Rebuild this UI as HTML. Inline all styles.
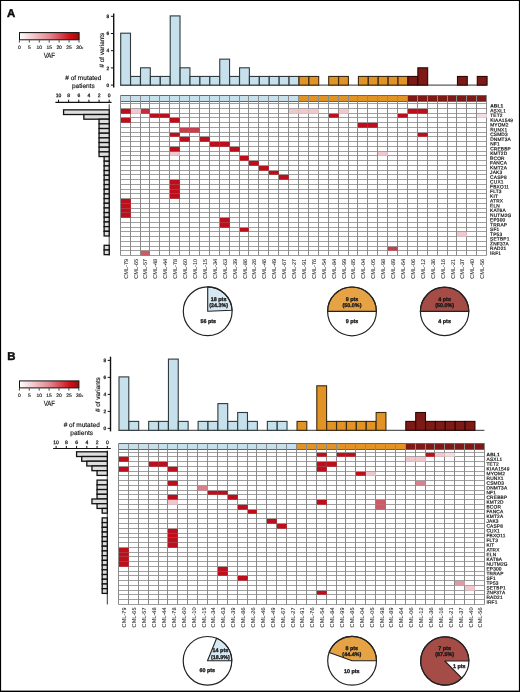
<!DOCTYPE html>
<html><head><meta charset="utf-8"><title>Figure</title><style>html,body{margin:0;padding:0;background:#fff;width:520px;height:692px;overflow:hidden;}text{stroke:#151515;stroke-width:0.15px;text-rendering:geometricPrecision;}text.n{stroke:none}text.gl{stroke-width:0.18px}text.sl{stroke-width:0.05px}text.pt{stroke-width:0.3px}text.tk{stroke-width:0.25px}text.lt{stroke:#000;stroke-width:0.45px}svg{display:block;will-change:transform;font-family:"Liberation Sans",sans-serif;}</style></head><body>
<svg width="520" height="692" viewBox="0 0 520 692" font-family="Liberation Sans, sans-serif" fill="#111">
<defs><linearGradient id="gA" x1="0" x2="1" y1="0" y2="0"><stop offset="0" stop-color="#ffffff"/><stop offset="0.5" stop-color="#e48890"/><stop offset="0.85" stop-color="#cf1018"/><stop offset="1" stop-color="#a00c0c"/></linearGradient><linearGradient id="gB" x1="0" x2="1" y1="0" y2="0"><stop offset="0" stop-color="#ffffff"/><stop offset="0.5" stop-color="#e48890"/><stop offset="0.85" stop-color="#cf1018"/><stop offset="1" stop-color="#a00c0c"/></linearGradient></defs>
<rect x="0" y="0" width="520" height="692" fill="#fff"/>
<text class="lt" x="7" y="16.6" font-size="11.4" font-weight="bold">A</text>
<rect x="19.5" y="32.6" width="59.6" height="7.2" fill="url(#gA)" stroke="#111" stroke-width="1"/>
<line x1="19.4" y1="40.3" x2="19.4" y2="42.5" stroke="#111" stroke-width="0.8"/>
<text x="19.4" y="48.9" font-size="4.9" text-anchor="middle">0</text>
<line x1="29.33" y1="40.3" x2="29.33" y2="42.5" stroke="#111" stroke-width="0.8"/>
<text x="29.33" y="48.9" font-size="4.9" text-anchor="middle">5</text>
<line x1="39.27" y1="40.3" x2="39.27" y2="42.5" stroke="#111" stroke-width="0.8"/>
<text x="39.27" y="48.9" font-size="4.9" text-anchor="middle">10</text>
<line x1="49.2" y1="40.3" x2="49.2" y2="42.5" stroke="#111" stroke-width="0.8"/>
<text x="49.2" y="48.9" font-size="4.9" text-anchor="middle">15</text>
<line x1="59.13" y1="40.3" x2="59.13" y2="42.5" stroke="#111" stroke-width="0.8"/>
<text x="59.13" y="48.9" font-size="4.9" text-anchor="middle">20</text>
<line x1="69.07" y1="40.3" x2="69.07" y2="42.5" stroke="#111" stroke-width="0.8"/>
<text x="69.07" y="48.9" font-size="4.9" text-anchor="middle">25</text>
<line x1="79" y1="40.3" x2="79" y2="42.5" stroke="#111" stroke-width="0.8"/>
<text x="79" y="48.9" font-size="4.9" text-anchor="middle">30</text>
<text x="81.6" y="48.6" font-size="3">&gt;</text>
<text x="49.4" y="57.8" font-size="7.6" text-anchor="middle" transform="translate(49.4 0) scale(0.8 1) translate(-49.4 0)">VAF</text>
<line x1="113.7" y1="13.6" x2="113.7" y2="87.6" stroke="#111" stroke-width="1.4"/>
<line x1="110.9" y1="85.1" x2="113.7" y2="85.1" stroke="#111" stroke-width="1"/>
<text class="tk" x="109.1" y="86.8" font-size="4.8" text-anchor="end">0</text>
<line x1="110.9" y1="67.9" x2="113.7" y2="67.9" stroke="#111" stroke-width="1"/>
<text class="tk" x="109.1" y="69.6" font-size="4.8" text-anchor="end">2</text>
<line x1="110.9" y1="50.7" x2="113.7" y2="50.7" stroke="#111" stroke-width="1"/>
<text class="tk" x="109.1" y="52.4" font-size="4.8" text-anchor="end">4</text>
<line x1="110.9" y1="33.5" x2="113.7" y2="33.5" stroke="#111" stroke-width="1"/>
<text class="tk" x="109.1" y="35.2" font-size="4.8" text-anchor="end">6</text>
<line x1="110.9" y1="16.3" x2="113.7" y2="16.3" stroke="#111" stroke-width="1"/>
<text class="tk" x="109.1" y="18" font-size="4.8" text-anchor="end">8</text>
<text x="0" y="0" font-size="6.4" text-anchor="middle" transform="translate(104.1 50.2) rotate(-90)"># of variants</text>
<line x1="120.2" y1="85.1" x2="486.68" y2="85.1" stroke="#333" stroke-width="1"/>
<rect x="120.7" y="33.2" width="9.8" height="51.9" fill="#c6e0ec" stroke="#2f3b3e" stroke-width="1.1"/>
<rect x="130.6" y="76.45" width="9.8" height="8.65" fill="#c6e0ec" stroke="#2f3b3e" stroke-width="1.1"/>
<rect x="140.51" y="67.8" width="9.8" height="17.3" fill="#c6e0ec" stroke="#2f3b3e" stroke-width="1.1"/>
<rect x="150.41" y="76.45" width="9.8" height="8.65" fill="#c6e0ec" stroke="#2f3b3e" stroke-width="1.1"/>
<rect x="160.32" y="76.45" width="9.8" height="8.65" fill="#c6e0ec" stroke="#2f3b3e" stroke-width="1.1"/>
<rect x="170.22" y="15.9" width="9.8" height="69.2" fill="#c6e0ec" stroke="#2f3b3e" stroke-width="1.1"/>
<rect x="180.13" y="67.8" width="9.8" height="17.3" fill="#c6e0ec" stroke="#2f3b3e" stroke-width="1.1"/>
<rect x="190.03" y="76.45" width="9.8" height="8.65" fill="#c6e0ec" stroke="#2f3b3e" stroke-width="1.1"/>
<rect x="199.94" y="76.45" width="9.8" height="8.65" fill="#c6e0ec" stroke="#2f3b3e" stroke-width="1.1"/>
<rect x="209.84" y="76.45" width="9.8" height="8.65" fill="#c6e0ec" stroke="#2f3b3e" stroke-width="1.1"/>
<rect x="219.75" y="59.15" width="9.8" height="25.95" fill="#c6e0ec" stroke="#2f3b3e" stroke-width="1.1"/>
<rect x="229.66" y="76.45" width="9.8" height="8.65" fill="#c6e0ec" stroke="#2f3b3e" stroke-width="1.1"/>
<rect x="239.56" y="67.8" width="9.8" height="17.3" fill="#c6e0ec" stroke="#2f3b3e" stroke-width="1.1"/>
<rect x="249.46" y="76.45" width="9.8" height="8.65" fill="#c6e0ec" stroke="#2f3b3e" stroke-width="1.1"/>
<rect x="259.37" y="76.45" width="9.8" height="8.65" fill="#c6e0ec" stroke="#2f3b3e" stroke-width="1.1"/>
<rect x="269.27" y="76.45" width="9.8" height="8.65" fill="#c6e0ec" stroke="#2f3b3e" stroke-width="1.1"/>
<rect x="279.18" y="76.45" width="9.8" height="8.65" fill="#c6e0ec" stroke="#2f3b3e" stroke-width="1.1"/>
<rect x="289.08" y="76.45" width="9.8" height="8.65" fill="#c6e0ec" stroke="#2f3b3e" stroke-width="1.1"/>
<rect x="298.99" y="76.45" width="9.8" height="8.65" fill="#e19326" stroke="#3a2a14" stroke-width="1.1"/>
<rect x="308.89" y="76.45" width="9.8" height="8.65" fill="#e19326" stroke="#3a2a14" stroke-width="1.1"/>
<rect x="328.7" y="76.45" width="9.8" height="8.65" fill="#e19326" stroke="#3a2a14" stroke-width="1.1"/>
<rect x="338.61" y="76.45" width="9.8" height="8.65" fill="#e19326" stroke="#3a2a14" stroke-width="1.1"/>
<rect x="358.42" y="76.45" width="9.8" height="8.65" fill="#e19326" stroke="#3a2a14" stroke-width="1.1"/>
<rect x="368.32" y="76.45" width="9.8" height="8.65" fill="#e19326" stroke="#3a2a14" stroke-width="1.1"/>
<rect x="378.23" y="76.45" width="9.8" height="8.65" fill="#e19326" stroke="#3a2a14" stroke-width="1.1"/>
<rect x="388.13" y="76.45" width="9.8" height="8.65" fill="#e19326" stroke="#3a2a14" stroke-width="1.1"/>
<rect x="398.04" y="76.45" width="9.8" height="8.65" fill="#e19326" stroke="#3a2a14" stroke-width="1.1"/>
<rect x="407.94" y="76.45" width="9.8" height="8.65" fill="#7d1a16" stroke="#2a0806" stroke-width="1.1"/>
<rect x="417.85" y="67.8" width="9.8" height="17.3" fill="#7d1a16" stroke="#2a0806" stroke-width="1.1"/>
<rect x="457.47" y="76.45" width="9.8" height="8.65" fill="#7d1a16" stroke="#2a0806" stroke-width="1.1"/>
<rect x="477.28" y="76.45" width="9.8" height="8.65" fill="#7d1a16" stroke="#2a0806" stroke-width="1.1"/>
<text x="83.3" y="80.4" font-size="6.5" text-anchor="middle"># of mutated</text>
<text x="83.3" y="88.2" font-size="6.5" text-anchor="middle">patients</text>
<line x1="55.4" y1="102.3" x2="111.5" y2="102.3" stroke="#111" stroke-width="1.2"/>
<line x1="109.2" y1="99.7" x2="109.2" y2="102.3" stroke="#111" stroke-width="1"/>
<text class="tk" x="109.2" y="96.9" font-size="5" text-anchor="middle">0</text>
<line x1="99.06" y1="99.7" x2="99.06" y2="102.3" stroke="#111" stroke-width="1"/>
<text class="tk" x="99.06" y="96.9" font-size="5" text-anchor="middle">2</text>
<line x1="88.92" y1="99.7" x2="88.92" y2="102.3" stroke="#111" stroke-width="1"/>
<text class="tk" x="88.92" y="96.9" font-size="5" text-anchor="middle">4</text>
<line x1="78.78" y1="99.7" x2="78.78" y2="102.3" stroke="#111" stroke-width="1"/>
<text class="tk" x="78.78" y="96.9" font-size="5" text-anchor="middle">6</text>
<line x1="68.64" y1="99.7" x2="68.64" y2="102.3" stroke="#111" stroke-width="1"/>
<text class="tk" x="68.64" y="96.9" font-size="5" text-anchor="middle">8</text>
<line x1="58.5" y1="99.7" x2="58.5" y2="102.3" stroke="#111" stroke-width="1"/>
<text class="tk" x="58.5" y="96.9" font-size="5" text-anchor="middle">10</text>
<line x1="109.2" y1="104.3" x2="109.2" y2="255.5" stroke="#222" stroke-width="0.9"/>
<rect x="63.57" y="109.85" width="45.63" height="4.67" fill="#dedede" stroke="#111" stroke-width="1.3"/>
<rect x="83.85" y="114.52" width="25.35" height="4.67" fill="#dedede" stroke="#111" stroke-width="1.3"/>
<rect x="99.06" y="119.19" width="10.14" height="4.67" fill="#dedede" stroke="#111" stroke-width="1.3"/>
<rect x="99.06" y="123.86" width="10.14" height="4.67" fill="#dedede" stroke="#111" stroke-width="1.3"/>
<rect x="99.06" y="128.53" width="10.14" height="4.67" fill="#dedede" stroke="#111" stroke-width="1.3"/>
<rect x="99.06" y="133.21" width="10.14" height="4.67" fill="#dedede" stroke="#111" stroke-width="1.3"/>
<rect x="99.06" y="137.88" width="10.14" height="4.67" fill="#dedede" stroke="#111" stroke-width="1.3"/>
<rect x="99.06" y="142.55" width="10.14" height="4.67" fill="#dedede" stroke="#111" stroke-width="1.3"/>
<rect x="99.06" y="147.22" width="10.14" height="4.67" fill="#dedede" stroke="#111" stroke-width="1.3"/>
<rect x="99.06" y="151.89" width="10.14" height="4.67" fill="#dedede" stroke="#111" stroke-width="1.3"/>
<rect x="104.13" y="156.56" width="5.07" height="4.67" fill="#dedede" stroke="#111" stroke-width="1.3"/>
<rect x="104.13" y="161.23" width="5.07" height="4.67" fill="#dedede" stroke="#111" stroke-width="1.3"/>
<rect x="104.13" y="165.9" width="5.07" height="4.67" fill="#dedede" stroke="#111" stroke-width="1.3"/>
<rect x="104.13" y="170.57" width="5.07" height="4.67" fill="#dedede" stroke="#111" stroke-width="1.3"/>
<rect x="104.13" y="175.25" width="5.07" height="4.67" fill="#dedede" stroke="#111" stroke-width="1.3"/>
<rect x="104.13" y="179.92" width="5.07" height="4.67" fill="#dedede" stroke="#111" stroke-width="1.3"/>
<rect x="104.13" y="184.59" width="5.07" height="4.67" fill="#dedede" stroke="#111" stroke-width="1.3"/>
<rect x="104.13" y="189.26" width="5.07" height="4.67" fill="#dedede" stroke="#111" stroke-width="1.3"/>
<rect x="104.13" y="193.93" width="5.07" height="4.67" fill="#dedede" stroke="#111" stroke-width="1.3"/>
<rect x="104.13" y="198.6" width="5.07" height="4.67" fill="#dedede" stroke="#111" stroke-width="1.3"/>
<rect x="104.13" y="203.27" width="5.07" height="4.67" fill="#dedede" stroke="#111" stroke-width="1.3"/>
<rect x="104.13" y="207.94" width="5.07" height="4.67" fill="#dedede" stroke="#111" stroke-width="1.3"/>
<rect x="104.13" y="212.61" width="5.07" height="4.67" fill="#dedede" stroke="#111" stroke-width="1.3"/>
<rect x="104.13" y="217.28" width="5.07" height="4.67" fill="#dedede" stroke="#111" stroke-width="1.3"/>
<rect x="104.13" y="221.96" width="5.07" height="4.67" fill="#dedede" stroke="#111" stroke-width="1.3"/>
<rect x="104.13" y="226.63" width="5.07" height="4.67" fill="#dedede" stroke="#111" stroke-width="1.3"/>
<rect x="104.13" y="231.3" width="5.07" height="4.67" fill="#dedede" stroke="#111" stroke-width="1.3"/>
<rect x="104.13" y="245.31" width="5.07" height="4.67" fill="#dedede" stroke="#111" stroke-width="1.3"/>
<rect x="104.13" y="249.98" width="5.07" height="4.67" fill="#dedede" stroke="#111" stroke-width="1.3"/>
<rect x="120.5" y="95.5" width="10" height="6" fill="#c6e0ec"/>
<rect x="130.5" y="95.5" width="10" height="6" fill="#c6e0ec"/>
<rect x="140.5" y="95.5" width="9" height="6" fill="#c6e0ec"/>
<rect x="149.5" y="95.5" width="10" height="6" fill="#c6e0ec"/>
<rect x="159.5" y="95.5" width="10" height="6" fill="#c6e0ec"/>
<rect x="169.5" y="95.5" width="10" height="6" fill="#c6e0ec"/>
<rect x="179.5" y="95.5" width="10" height="6" fill="#c6e0ec"/>
<rect x="189.5" y="95.5" width="10" height="6" fill="#c6e0ec"/>
<rect x="199.5" y="95.5" width="10" height="6" fill="#c6e0ec"/>
<rect x="209.5" y="95.5" width="10" height="6" fill="#c6e0ec"/>
<rect x="219.5" y="95.5" width="10" height="6" fill="#c6e0ec"/>
<rect x="229.5" y="95.5" width="10" height="6" fill="#c6e0ec"/>
<rect x="239.5" y="95.5" width="9" height="6" fill="#c6e0ec"/>
<rect x="248.5" y="95.5" width="10" height="6" fill="#c6e0ec"/>
<rect x="258.5" y="95.5" width="10" height="6" fill="#c6e0ec"/>
<rect x="268.5" y="95.5" width="10" height="6" fill="#c6e0ec"/>
<rect x="278.5" y="95.5" width="10" height="6" fill="#c6e0ec"/>
<rect x="288.5" y="95.5" width="10" height="6" fill="#c6e0ec"/>
<rect x="298.5" y="95.5" width="10" height="6" fill="#e19326"/>
<rect x="308.5" y="95.5" width="10" height="6" fill="#e19326"/>
<rect x="318.5" y="95.5" width="10" height="6" fill="#e19326"/>
<rect x="328.5" y="95.5" width="10" height="6" fill="#e19326"/>
<rect x="338.5" y="95.5" width="10" height="6" fill="#e19326"/>
<rect x="348.5" y="95.5" width="9" height="6" fill="#e19326"/>
<rect x="357.5" y="95.5" width="10" height="6" fill="#e19326"/>
<rect x="367.5" y="95.5" width="10" height="6" fill="#e19326"/>
<rect x="377.5" y="95.5" width="10" height="6" fill="#e19326"/>
<rect x="387.5" y="95.5" width="10" height="6" fill="#e19326"/>
<rect x="397.5" y="95.5" width="10" height="6" fill="#e19326"/>
<rect x="407.5" y="95.5" width="10" height="6" fill="#7d1a16"/>
<rect x="417.5" y="95.5" width="10" height="6" fill="#7d1a16"/>
<rect x="427.5" y="95.5" width="10" height="6" fill="#7d1a16"/>
<rect x="437.5" y="95.5" width="10" height="6" fill="#7d1a16"/>
<rect x="447.5" y="95.5" width="9" height="6" fill="#7d1a16"/>
<rect x="456.5" y="95.5" width="10" height="6" fill="#7d1a16"/>
<rect x="466.5" y="95.5" width="10" height="6" fill="#7d1a16"/>
<rect x="476.5" y="95.5" width="10" height="6" fill="#7d1a16"/>
<path d="M120.5 95.5H486.5M120.5 101.5H486.5" stroke="#666" stroke-width="1" fill="none"/>
<path d="M120.5 103.5H486.5M120.5 108.5H486.5M120.5 113.5H486.5M120.5 117.5H486.5M120.5 122.5H486.5M120.5 127.5H486.5M120.5 132.5H486.5M120.5 136.5H486.5M120.5 141.5H486.5M120.5 146.5H486.5M120.5 151.5H486.5M120.5 155.5H486.5M120.5 160.5H486.5M120.5 165.5H486.5M120.5 170.5H486.5M120.5 174.5H486.5M120.5 179.5H486.5M120.5 184.5H486.5M120.5 189.5H486.5M120.5 193.5H486.5M120.5 198.5H486.5M120.5 203.5H486.5M120.5 208.5H486.5M120.5 212.5H486.5M120.5 217.5H486.5M120.5 222.5H486.5M120.5 227.5H486.5M120.5 231.5H486.5M120.5 236.5H486.5M120.5 241.5H486.5M120.5 246.5H486.5M120.5 250.5H486.5M120.5 255.5H486.5" stroke="#9e9e9e" stroke-width="1" fill="none"/>
<path d="M120.5 95.5V255.5M130.5 95.5V255.5M140.5 95.5V255.5M149.5 95.5V255.5M159.5 95.5V255.5M169.5 95.5V255.5M179.5 95.5V255.5M189.5 95.5V255.5M199.5 95.5V255.5M209.5 95.5V255.5M219.5 95.5V255.5M229.5 95.5V255.5M239.5 95.5V255.5M248.5 95.5V255.5M258.5 95.5V255.5M268.5 95.5V255.5M278.5 95.5V255.5M288.5 95.5V255.5M298.5 95.5V255.5M308.5 95.5V255.5M318.5 95.5V255.5M328.5 95.5V255.5M338.5 95.5V255.5M348.5 95.5V255.5M357.5 95.5V255.5M367.5 95.5V255.5M377.5 95.5V255.5M387.5 95.5V255.5M397.5 95.5V255.5M407.5 95.5V255.5M417.5 95.5V255.5M427.5 95.5V255.5M437.5 95.5V255.5M447.5 95.5V255.5M456.5 95.5V255.5M466.5 95.5V255.5M476.5 95.5V255.5M486.5 95.5V255.5" stroke="#8a8a8a" stroke-width="1" fill="none"/>
<rect x="121" y="108.9" width="9.8" height="4.8" fill="#bc0f1b"/>
<rect x="131" y="108.9" width="9.8" height="4.8" fill="#f1c8cd"/>
<rect x="141" y="108.9" width="8.8" height="4.8" fill="#c72a38"/>
<rect x="289" y="108.9" width="9.8" height="4.8" fill="#f1c8cd"/>
<rect x="299" y="108.9" width="9.8" height="4.8" fill="#f1c8cd"/>
<rect x="309" y="108.9" width="9.8" height="4.8" fill="#f1c8cd"/>
<rect x="339" y="108.9" width="9.8" height="4.8" fill="#f1c8cd"/>
<rect x="408" y="108.9" width="9.8" height="4.8" fill="#bc0f1b"/>
<rect x="418" y="108.9" width="9.8" height="4.8" fill="#bc0f1b"/>
<rect x="150" y="113.9" width="9.8" height="3.8" fill="#bc0f1b"/>
<rect x="160" y="113.9" width="9.8" height="3.8" fill="#bc0f1b"/>
<rect x="329" y="113.9" width="9.8" height="3.8" fill="#bc0f1b"/>
<rect x="398" y="113.9" width="9.8" height="3.8" fill="#bc0f1b"/>
<rect x="477" y="113.9" width="9.8" height="3.8" fill="#f7dde0"/>
<rect x="121" y="117.9" width="9.8" height="4.8" fill="#bc0f1b"/>
<rect x="170" y="117.9" width="9.8" height="4.8" fill="#bc0f1b"/>
<rect x="358" y="122.9" width="9.8" height="4.8" fill="#bc0f1b"/>
<rect x="368" y="122.9" width="9.8" height="4.8" fill="#bc0f1b"/>
<rect x="180" y="127.9" width="9.8" height="4.8" fill="#c4404c"/>
<rect x="190" y="127.9" width="9.8" height="4.8" fill="#c4404c"/>
<rect x="170" y="132.9" width="9.8" height="3.8" fill="#bc0f1b"/>
<rect x="418" y="132.9" width="9.8" height="3.8" fill="#bc0f1b"/>
<rect x="180" y="136.9" width="9.8" height="4.8" fill="#bc0f1b"/>
<rect x="200" y="136.9" width="9.8" height="4.8" fill="#bc0f1b"/>
<rect x="210" y="141.9" width="9.8" height="4.8" fill="#bc0f1b"/>
<rect x="220" y="141.9" width="9.8" height="4.8" fill="#bc0f1b"/>
<rect x="170" y="146.9" width="9.8" height="4.8" fill="#bc0f1b"/>
<rect x="230" y="146.9" width="9.8" height="4.8" fill="#bc0f1b"/>
<rect x="170" y="151.9" width="9.8" height="3.8" fill="#f1c8cd"/>
<rect x="378" y="151.9" width="9.8" height="3.8" fill="#f1c8cd"/>
<rect x="240" y="155.9" width="8.8" height="4.8" fill="#bc0f1b"/>
<rect x="249" y="160.9" width="9.8" height="4.8" fill="#bc0f1b"/>
<rect x="259" y="165.9" width="9.8" height="4.8" fill="#bc0f1b"/>
<rect x="269" y="170.9" width="9.8" height="3.8" fill="#bc0f1b"/>
<rect x="279" y="174.9" width="9.8" height="4.8" fill="#bc0f1b"/>
<rect x="170" y="179.9" width="9.8" height="4.8" fill="#bc0f1b"/>
<rect x="170" y="184.9" width="9.8" height="4.8" fill="#bc0f1b"/>
<rect x="170" y="189.9" width="9.8" height="3.8" fill="#bc0f1b"/>
<rect x="170" y="193.9" width="9.8" height="4.8" fill="#bc0f1b"/>
<rect x="121" y="198.9" width="9.8" height="4.8" fill="#bc0f1b"/>
<rect x="121" y="203.9" width="9.8" height="4.8" fill="#bc0f1b"/>
<rect x="121" y="208.9" width="9.8" height="3.8" fill="#bc0f1b"/>
<rect x="121" y="212.9" width="9.8" height="4.8" fill="#bc0f1b"/>
<rect x="220" y="217.9" width="9.8" height="4.8" fill="#bc0f1b"/>
<rect x="220" y="222.9" width="9.8" height="4.8" fill="#bc0f1b"/>
<rect x="240" y="227.9" width="8.8" height="3.8" fill="#bc0f1b"/>
<rect x="457" y="231.9" width="9.8" height="4.8" fill="#f1c8cd"/>
<rect x="388" y="246.9" width="9.8" height="3.8" fill="#c4404c"/>
<rect x="141" y="250.9" width="8.8" height="4.8" fill="#cd5a66"/>
<g transform="rotate(0.05 490.18 103.5)">
<text class="gl" x="490.18" y="107.62" font-size="4.8" letter-spacing="0.18" font-weight="bold">ABL1</text>
<text class="gl" x="490.18" y="112.38" font-size="4.8" letter-spacing="0.18">ASXL1</text>
<text class="gl" x="490.18" y="117.12" font-size="4.8" letter-spacing="0.18">TET2</text>
<text class="gl" x="490.18" y="121.88" font-size="4.8" letter-spacing="0.18">KIAA1549</text>
<text class="gl" x="490.18" y="126.62" font-size="4.8" letter-spacing="0.18">MYOM2</text>
<text class="gl" x="490.18" y="131.38" font-size="4.8" letter-spacing="0.18">RUNX1</text>
<text class="gl" x="490.18" y="136.12" font-size="4.8" letter-spacing="0.18">CSMD3</text>
<text class="gl" x="490.18" y="140.88" font-size="4.8" letter-spacing="0.18">DNMT3A</text>
<text class="gl" x="490.18" y="145.62" font-size="4.8" letter-spacing="0.18">NF1</text>
<text class="gl" x="490.18" y="150.38" font-size="4.8" letter-spacing="0.18">CREBBP</text>
<text class="gl" x="490.18" y="155.12" font-size="4.8" letter-spacing="0.18">KMT2D</text>
<text class="gl" x="490.18" y="159.88" font-size="4.8" letter-spacing="0.18">BCOR</text>
<text class="gl" x="490.18" y="164.62" font-size="4.8" letter-spacing="0.18">FANCA</text>
<text class="gl" x="490.18" y="169.38" font-size="4.8" letter-spacing="0.18">KMT2A</text>
<text class="gl" x="490.18" y="174.12" font-size="4.8" letter-spacing="0.18">JAK3</text>
<text class="gl" x="490.18" y="178.88" font-size="4.8" letter-spacing="0.18">CASP8</text>
<text class="gl" x="490.18" y="183.62" font-size="4.8" letter-spacing="0.18">CUX1</text>
<text class="gl" x="490.18" y="188.38" font-size="4.8" letter-spacing="0.18">FBXO11</text>
<text class="gl" x="490.18" y="193.12" font-size="4.8" letter-spacing="0.18">FLT3</text>
<text class="gl" x="490.18" y="197.88" font-size="4.8" letter-spacing="0.18">KIT</text>
<text class="gl" x="490.18" y="202.62" font-size="4.8" letter-spacing="0.18">ATRX</text>
<text class="gl" x="490.18" y="207.38" font-size="4.8" letter-spacing="0.18">ELN</text>
<text class="gl" x="490.18" y="212.12" font-size="4.8" letter-spacing="0.18">KAT6A</text>
<text class="gl" x="490.18" y="216.88" font-size="4.8" letter-spacing="0.18">NUTM2G</text>
<text class="gl" x="490.18" y="221.62" font-size="4.8" letter-spacing="0.18">EP300</text>
<text class="gl" x="490.18" y="226.38" font-size="4.8" letter-spacing="0.18">TRRAP</text>
<text class="gl" x="490.18" y="231.12" font-size="4.8" letter-spacing="0.18">SF1</text>
<text class="gl" x="490.18" y="235.88" font-size="4.8" letter-spacing="0.18">TP53</text>
<text class="gl" x="490.18" y="240.62" font-size="4.8" letter-spacing="0.18">SETBP1</text>
<text class="gl" x="490.18" y="245.38" font-size="4.8" letter-spacing="0.18">ZNF37A</text>
<text class="gl" x="490.18" y="250.12" font-size="4.8" letter-spacing="0.18">RAD21</text>
<text class="gl" x="490.18" y="254.88" font-size="4.8" letter-spacing="0.18">IRF1</text>
</g>
<text class="sl" fill="#2a2a2a" x="0" y="0" font-size="5.6" text-anchor="end" transform="translate(127.65 258.8) rotate(-90)">CML-79</text>
<text class="sl" fill="#2a2a2a" x="0" y="0" font-size="5.6" text-anchor="end" transform="translate(137.56 258.8) rotate(-90)">CML-65</text>
<text class="sl" fill="#2a2a2a" x="0" y="0" font-size="5.6" text-anchor="end" transform="translate(147.46 258.8) rotate(-90)">CML-57</text>
<text class="sl" fill="#2a2a2a" x="0" y="0" font-size="5.6" text-anchor="end" transform="translate(157.37 258.8) rotate(-90)">CML-48</text>
<text class="sl" fill="#2a2a2a" x="0" y="0" font-size="5.6" text-anchor="end" transform="translate(167.27 258.8) rotate(-90)">CML-44</text>
<text class="sl" fill="#2a2a2a" x="0" y="0" font-size="5.6" text-anchor="end" transform="translate(177.18 258.8) rotate(-90)">CML-78</text>
<text class="sl" fill="#2a2a2a" x="0" y="0" font-size="5.6" text-anchor="end" transform="translate(187.08 258.8) rotate(-90)">CML-60</text>
<text class="sl" fill="#2a2a2a" x="0" y="0" font-size="5.6" text-anchor="end" transform="translate(196.99 258.8) rotate(-90)">CML-10</text>
<text class="sl" fill="#2a2a2a" x="0" y="0" font-size="5.6" text-anchor="end" transform="translate(206.89 258.8) rotate(-90)">CML-15</text>
<text class="sl" fill="#2a2a2a" x="0" y="0" font-size="5.6" text-anchor="end" transform="translate(216.8 258.8) rotate(-90)">CML-34</text>
<text class="sl" fill="#2a2a2a" x="0" y="0" font-size="5.6" text-anchor="end" transform="translate(226.7 258.8) rotate(-90)">CML-63</text>
<text class="sl" fill="#2a2a2a" x="0" y="0" font-size="5.6" text-anchor="end" transform="translate(236.61 258.8) rotate(-90)">CML-39</text>
<text class="sl" fill="#2a2a2a" x="0" y="0" font-size="5.6" text-anchor="end" transform="translate(246.51 258.8) rotate(-90)">CML-86</text>
<text class="sl" fill="#2a2a2a" x="0" y="0" font-size="5.6" text-anchor="end" transform="translate(256.42 258.8) rotate(-90)">CML-26</text>
<text class="sl" fill="#2a2a2a" x="0" y="0" font-size="5.6" text-anchor="end" transform="translate(266.32 258.8) rotate(-90)">CML-46</text>
<text class="sl" fill="#2a2a2a" x="0" y="0" font-size="5.6" text-anchor="end" transform="translate(276.23 258.8) rotate(-90)">CML-49</text>
<text class="sl" fill="#2a2a2a" x="0" y="0" font-size="5.6" text-anchor="end" transform="translate(286.13 258.8) rotate(-90)">CML-67</text>
<text class="sl" fill="#2a2a2a" x="0" y="0" font-size="5.6" text-anchor="end" transform="translate(296.04 258.8) rotate(-90)">CML-27</text>
<text class="sl" fill="#2a2a2a" x="0" y="0" font-size="5.6" text-anchor="end" transform="translate(305.94 258.8) rotate(-90)">CML-91</text>
<text class="sl" fill="#2a2a2a" x="0" y="0" font-size="5.6" text-anchor="end" transform="translate(315.85 258.8) rotate(-90)">CML-76</text>
<text class="sl" fill="#2a2a2a" x="0" y="0" font-size="5.6" text-anchor="end" transform="translate(325.75 258.8) rotate(-90)">CML-54</text>
<text class="sl" fill="#2a2a2a" x="0" y="0" font-size="5.6" text-anchor="end" transform="translate(335.66 258.8) rotate(-90)">CML-84</text>
<text class="sl" fill="#2a2a2a" x="0" y="0" font-size="5.6" text-anchor="end" transform="translate(345.56 258.8) rotate(-90)">CML-99</text>
<text class="sl" fill="#2a2a2a" x="0" y="0" font-size="5.6" text-anchor="end" transform="translate(355.47 258.8) rotate(-90)">CML-85</text>
<text class="sl" fill="#2a2a2a" x="0" y="0" font-size="5.6" text-anchor="end" transform="translate(365.37 258.8) rotate(-90)">CML-04</text>
<text class="sl" fill="#2a2a2a" x="0" y="0" font-size="5.6" text-anchor="end" transform="translate(375.28 258.8) rotate(-90)">CML-05</text>
<text class="sl" fill="#2a2a2a" x="0" y="0" font-size="5.6" text-anchor="end" transform="translate(385.18 258.8) rotate(-90)">CML-98</text>
<text class="sl" fill="#2a2a2a" x="0" y="0" font-size="5.6" text-anchor="end" transform="translate(395.09 258.8) rotate(-90)">CML-89</text>
<text class="sl" fill="#2a2a2a" x="0" y="0" font-size="5.6" text-anchor="end" transform="translate(404.99 258.8) rotate(-90)">CML-64</text>
<text class="sl" fill="#2a2a2a" x="0" y="0" font-size="5.6" text-anchor="end" transform="translate(414.9 258.8) rotate(-90)">CML-06</text>
<text class="sl" fill="#2a2a2a" x="0" y="0" font-size="5.6" text-anchor="end" transform="translate(424.8 258.8) rotate(-90)">CML-12</text>
<text class="sl" fill="#2a2a2a" x="0" y="0" font-size="5.6" text-anchor="end" transform="translate(434.71 258.8) rotate(-90)">CML-36</text>
<text class="sl" fill="#2a2a2a" x="0" y="0" font-size="5.6" text-anchor="end" transform="translate(444.61 258.8) rotate(-90)">CML-16</text>
<text class="sl" fill="#2a2a2a" x="0" y="0" font-size="5.6" text-anchor="end" transform="translate(454.52 258.8) rotate(-90)">CML-21</text>
<text class="sl" fill="#2a2a2a" x="0" y="0" font-size="5.6" text-anchor="end" transform="translate(464.42 258.8) rotate(-90)">CML-37</text>
<text class="sl" fill="#2a2a2a" x="0" y="0" font-size="5.6" text-anchor="end" transform="translate(474.33 258.8) rotate(-90)">CML-40</text>
<text class="sl" fill="#2a2a2a" x="0" y="0" font-size="5.6" text-anchor="end" transform="translate(484.23 258.8) rotate(-90)">CML-56</text>
<circle cx="207.7" cy="311.3" r="24.4" fill="#fff"/>
<path d="M207.7 311.3L207.7 286.9A24.4 24.4 0 0 1 232.08 310.24Z" fill="#d6e8f1" stroke="#222" stroke-width="1.1" stroke-linejoin="round"/>
<circle cx="207.7" cy="311.3" r="24.4" fill="none" stroke="#222" stroke-width="1.2"/>
<text class="pt" x="218.6" y="301" font-size="5.4" font-weight="bold" text-anchor="middle" fill="#1a1a1a">18 pts</text>
<text class="pt" x="218.6" y="306.6" font-size="5.4" font-weight="bold" text-anchor="middle" fill="#1a1a1a">(24.3%)</text>
<text class="pt" x="208.2" y="323.2" font-size="5.4" font-weight="bold" text-anchor="middle" fill="#1a1a1a">56 pts</text>
<circle cx="352" cy="311.4" r="24.4" fill="#fff"/>
<path d="M352 311.4L327.6 311.4A24.4 24.4 0 0 1 376.4 311.4Z" fill="#e6a345" stroke="#222" stroke-width="1.1" stroke-linejoin="round"/>
<circle cx="352" cy="311.4" r="24.4" fill="none" stroke="#222" stroke-width="1.2"/>
<text class="pt" x="352" y="301" font-size="5.4" font-weight="bold" text-anchor="middle" fill="#1a1a1a">9 pts</text>
<text class="pt" x="352" y="306.6" font-size="5.4" font-weight="bold" text-anchor="middle" fill="#1a1a1a">(50.0%)</text>
<text class="pt" x="352" y="323.2" font-size="5.4" font-weight="bold" text-anchor="middle" fill="#1a1a1a">9 pts</text>
<circle cx="444.6" cy="311.4" r="24.2" fill="#fff"/>
<path d="M444.6 311.4L420.4 311.4A24.2 24.2 0 0 1 468.8 311.4Z" fill="#a54c47" stroke="#222" stroke-width="1.1" stroke-linejoin="round"/>
<circle cx="444.6" cy="311.4" r="24.2" fill="none" stroke="#222" stroke-width="1.2"/>
<text class="pt" x="444.6" y="301" font-size="5.4" font-weight="bold" text-anchor="middle" fill="#1a1a1a">4 pts</text>
<text class="pt" x="444.6" y="306.6" font-size="5.4" font-weight="bold" text-anchor="middle" fill="#1a1a1a">(50.0%)</text>
<text class="pt" x="444.6" y="323.2" font-size="5.4" font-weight="bold" text-anchor="middle" fill="#1a1a1a">4 pts</text>
<text class="lt" x="7.3" y="359.6" font-size="11.4" font-weight="bold">B</text>
<rect x="19.5" y="380.9" width="59.4" height="7" fill="url(#gB)" stroke="#111" stroke-width="1"/>
<line x1="19.4" y1="388.4" x2="19.4" y2="390.6" stroke="#111" stroke-width="0.8"/>
<text x="19.4" y="397" font-size="4.9" text-anchor="middle">0</text>
<line x1="29.3" y1="388.4" x2="29.3" y2="390.6" stroke="#111" stroke-width="0.8"/>
<text x="29.3" y="397" font-size="4.9" text-anchor="middle">5</text>
<line x1="39.2" y1="388.4" x2="39.2" y2="390.6" stroke="#111" stroke-width="0.8"/>
<text x="39.2" y="397" font-size="4.9" text-anchor="middle">10</text>
<line x1="49.1" y1="388.4" x2="49.1" y2="390.6" stroke="#111" stroke-width="0.8"/>
<text x="49.1" y="397" font-size="4.9" text-anchor="middle">15</text>
<line x1="59" y1="388.4" x2="59" y2="390.6" stroke="#111" stroke-width="0.8"/>
<text x="59" y="397" font-size="4.9" text-anchor="middle">20</text>
<line x1="68.9" y1="388.4" x2="68.9" y2="390.6" stroke="#111" stroke-width="0.8"/>
<text x="68.9" y="397" font-size="4.9" text-anchor="middle">25</text>
<line x1="78.8" y1="388.4" x2="78.8" y2="390.6" stroke="#111" stroke-width="0.8"/>
<text x="78.8" y="397" font-size="4.9" text-anchor="middle">30</text>
<text x="81.4" y="396.7" font-size="3">&gt;</text>
<text x="49.4" y="405.6" font-size="7.6" text-anchor="middle" transform="translate(49.4 0) scale(0.8 1) translate(-49.4 0)">VAF</text>
<line x1="110.5" y1="356.7" x2="110.5" y2="431.4" stroke="#111" stroke-width="1.4"/>
<line x1="107.7" y1="428.4" x2="110.5" y2="428.4" stroke="#111" stroke-width="1"/>
<text class="tk" x="106.1" y="430.1" font-size="4.8" text-anchor="end">0</text>
<line x1="107.7" y1="411.4" x2="110.5" y2="411.4" stroke="#111" stroke-width="1"/>
<text class="tk" x="106.1" y="413.1" font-size="4.8" text-anchor="end">2</text>
<line x1="107.7" y1="394.4" x2="110.5" y2="394.4" stroke="#111" stroke-width="1"/>
<text class="tk" x="106.1" y="396.1" font-size="4.8" text-anchor="end">4</text>
<line x1="107.7" y1="377.4" x2="110.5" y2="377.4" stroke="#111" stroke-width="1"/>
<text class="tk" x="106.1" y="379.1" font-size="4.8" text-anchor="end">6</text>
<line x1="107.7" y1="360.4" x2="110.5" y2="360.4" stroke="#111" stroke-width="1"/>
<text class="tk" x="106.1" y="362.1" font-size="4.8" text-anchor="end">8</text>
<text x="0" y="0" font-size="6.4" text-anchor="middle" transform="translate(100 394.7) rotate(-90)"># of variants</text>
<line x1="118.5" y1="430.3" x2="484.43" y2="430.3" stroke="#333" stroke-width="1"/>
<rect x="119" y="376.9" width="9.79" height="53.4" fill="#c6e0ec" stroke="#2f3b3e" stroke-width="1.1"/>
<rect x="128.89" y="421.4" width="9.79" height="8.9" fill="#c6e0ec" stroke="#2f3b3e" stroke-width="1.1"/>
<rect x="148.67" y="421.4" width="9.79" height="8.9" fill="#c6e0ec" stroke="#2f3b3e" stroke-width="1.1"/>
<rect x="158.56" y="421.4" width="9.79" height="8.9" fill="#c6e0ec" stroke="#2f3b3e" stroke-width="1.1"/>
<rect x="168.45" y="359.1" width="9.79" height="71.2" fill="#c6e0ec" stroke="#2f3b3e" stroke-width="1.1"/>
<rect x="178.34" y="421.4" width="9.79" height="8.9" fill="#c6e0ec" stroke="#2f3b3e" stroke-width="1.1"/>
<rect x="198.12" y="421.4" width="9.79" height="8.9" fill="#c6e0ec" stroke="#2f3b3e" stroke-width="1.1"/>
<rect x="208.01" y="421.4" width="9.79" height="8.9" fill="#c6e0ec" stroke="#2f3b3e" stroke-width="1.1"/>
<rect x="217.9" y="403.6" width="9.79" height="26.7" fill="#c6e0ec" stroke="#2f3b3e" stroke-width="1.1"/>
<rect x="227.79" y="421.4" width="9.79" height="8.9" fill="#c6e0ec" stroke="#2f3b3e" stroke-width="1.1"/>
<rect x="237.68" y="412.5" width="9.79" height="17.8" fill="#c6e0ec" stroke="#2f3b3e" stroke-width="1.1"/>
<rect x="247.57" y="421.4" width="9.79" height="8.9" fill="#c6e0ec" stroke="#2f3b3e" stroke-width="1.1"/>
<rect x="267.35" y="421.4" width="9.79" height="8.9" fill="#c6e0ec" stroke="#2f3b3e" stroke-width="1.1"/>
<rect x="277.24" y="421.4" width="9.79" height="8.9" fill="#c6e0ec" stroke="#2f3b3e" stroke-width="1.1"/>
<rect x="297.02" y="421.4" width="9.79" height="8.9" fill="#e19326" stroke="#3a2a14" stroke-width="1.1"/>
<rect x="316.8" y="385.8" width="9.79" height="44.5" fill="#e19326" stroke="#3a2a14" stroke-width="1.1"/>
<rect x="326.69" y="421.4" width="9.79" height="8.9" fill="#e19326" stroke="#3a2a14" stroke-width="1.1"/>
<rect x="336.58" y="421.4" width="9.79" height="8.9" fill="#e19326" stroke="#3a2a14" stroke-width="1.1"/>
<rect x="346.47" y="421.4" width="9.79" height="8.9" fill="#e19326" stroke="#3a2a14" stroke-width="1.1"/>
<rect x="356.36" y="421.4" width="9.79" height="8.9" fill="#e19326" stroke="#3a2a14" stroke-width="1.1"/>
<rect x="366.25" y="421.4" width="9.79" height="8.9" fill="#e19326" stroke="#3a2a14" stroke-width="1.1"/>
<rect x="376.14" y="412.5" width="9.79" height="17.8" fill="#e19326" stroke="#3a2a14" stroke-width="1.1"/>
<rect x="405.81" y="421.4" width="9.79" height="8.9" fill="#7d1a16" stroke="#2a0806" stroke-width="1.1"/>
<rect x="415.7" y="412.5" width="9.79" height="17.8" fill="#7d1a16" stroke="#2a0806" stroke-width="1.1"/>
<rect x="425.59" y="421.4" width="9.79" height="8.9" fill="#7d1a16" stroke="#2a0806" stroke-width="1.1"/>
<rect x="435.48" y="421.4" width="9.79" height="8.9" fill="#7d1a16" stroke="#2a0806" stroke-width="1.1"/>
<rect x="445.37" y="421.4" width="9.79" height="8.9" fill="#7d1a16" stroke="#2a0806" stroke-width="1.1"/>
<rect x="455.26" y="421.4" width="9.79" height="8.9" fill="#7d1a16" stroke="#2a0806" stroke-width="1.1"/>
<rect x="465.15" y="421.4" width="9.79" height="8.9" fill="#7d1a16" stroke="#2a0806" stroke-width="1.1"/>
<text x="81.7" y="426.8" font-size="6.5" text-anchor="middle"># of mutated</text>
<text x="81.7" y="435.3" font-size="6.5" text-anchor="middle">patients</text>
<line x1="53.1" y1="448.5" x2="110.8" y2="448.5" stroke="#111" stroke-width="1.2"/>
<line x1="107.3" y1="445.9" x2="107.3" y2="448.5" stroke="#111" stroke-width="1"/>
<text class="tk" x="107.3" y="443.5" font-size="5" text-anchor="middle">0</text>
<line x1="97.06" y1="445.9" x2="97.06" y2="448.5" stroke="#111" stroke-width="1"/>
<text class="tk" x="97.06" y="443.5" font-size="5" text-anchor="middle">2</text>
<line x1="86.82" y1="445.9" x2="86.82" y2="448.5" stroke="#111" stroke-width="1"/>
<text class="tk" x="86.82" y="443.5" font-size="5" text-anchor="middle">4</text>
<line x1="76.58" y1="445.9" x2="76.58" y2="448.5" stroke="#111" stroke-width="1"/>
<text class="tk" x="76.58" y="443.5" font-size="5" text-anchor="middle">6</text>
<line x1="66.34" y1="445.9" x2="66.34" y2="448.5" stroke="#111" stroke-width="1"/>
<text class="tk" x="66.34" y="443.5" font-size="5" text-anchor="middle">8</text>
<line x1="56.1" y1="445.9" x2="56.1" y2="448.5" stroke="#111" stroke-width="1"/>
<text class="tk" x="56.1" y="443.5" font-size="5" text-anchor="middle">10</text>
<line x1="107.3" y1="450.5" x2="107.3" y2="604.42" stroke="#222" stroke-width="0.9"/>
<rect x="76.58" y="451.8" width="30.72" height="4.72" fill="#dedede" stroke="#111" stroke-width="1.3"/>
<rect x="81.7" y="456.52" width="25.6" height="4.72" fill="#dedede" stroke="#111" stroke-width="1.3"/>
<rect x="86.82" y="461.24" width="20.48" height="4.72" fill="#dedede" stroke="#111" stroke-width="1.3"/>
<rect x="91.94" y="465.96" width="15.36" height="4.72" fill="#dedede" stroke="#111" stroke-width="1.3"/>
<rect x="97.06" y="470.68" width="10.24" height="4.72" fill="#dedede" stroke="#111" stroke-width="1.3"/>
<rect x="97.06" y="480.12" width="10.24" height="4.72" fill="#dedede" stroke="#111" stroke-width="1.3"/>
<rect x="97.06" y="484.84" width="10.24" height="4.72" fill="#dedede" stroke="#111" stroke-width="1.3"/>
<rect x="97.06" y="489.56" width="10.24" height="4.72" fill="#dedede" stroke="#111" stroke-width="1.3"/>
<rect x="97.06" y="494.28" width="10.24" height="4.72" fill="#dedede" stroke="#111" stroke-width="1.3"/>
<rect x="91.94" y="499" width="15.36" height="4.72" fill="#dedede" stroke="#111" stroke-width="1.3"/>
<rect x="97.06" y="503.72" width="10.24" height="4.72" fill="#dedede" stroke="#111" stroke-width="1.3"/>
<rect x="102.18" y="508.44" width="5.12" height="4.72" fill="#dedede" stroke="#111" stroke-width="1.3"/>
<rect x="102.18" y="517.88" width="5.12" height="4.72" fill="#dedede" stroke="#111" stroke-width="1.3"/>
<rect x="102.18" y="522.6" width="5.12" height="4.72" fill="#dedede" stroke="#111" stroke-width="1.3"/>
<rect x="102.18" y="527.32" width="5.12" height="4.72" fill="#dedede" stroke="#111" stroke-width="1.3"/>
<rect x="102.18" y="532.04" width="5.12" height="4.72" fill="#dedede" stroke="#111" stroke-width="1.3"/>
<rect x="102.18" y="536.76" width="5.12" height="4.72" fill="#dedede" stroke="#111" stroke-width="1.3"/>
<rect x="102.18" y="541.48" width="5.12" height="4.72" fill="#dedede" stroke="#111" stroke-width="1.3"/>
<rect x="102.18" y="546.2" width="5.12" height="4.72" fill="#dedede" stroke="#111" stroke-width="1.3"/>
<rect x="102.18" y="550.92" width="5.12" height="4.72" fill="#dedede" stroke="#111" stroke-width="1.3"/>
<rect x="102.18" y="555.64" width="5.12" height="4.72" fill="#dedede" stroke="#111" stroke-width="1.3"/>
<rect x="102.18" y="560.36" width="5.12" height="4.72" fill="#dedede" stroke="#111" stroke-width="1.3"/>
<rect x="102.18" y="565.08" width="5.12" height="4.72" fill="#dedede" stroke="#111" stroke-width="1.3"/>
<rect x="102.18" y="569.8" width="5.12" height="4.72" fill="#dedede" stroke="#111" stroke-width="1.3"/>
<rect x="102.18" y="574.52" width="5.12" height="4.72" fill="#dedede" stroke="#111" stroke-width="1.3"/>
<rect x="102.18" y="579.24" width="5.12" height="4.72" fill="#dedede" stroke="#111" stroke-width="1.3"/>
<rect x="102.18" y="583.96" width="5.12" height="4.72" fill="#dedede" stroke="#111" stroke-width="1.3"/>
<rect x="102.18" y="588.68" width="5.12" height="4.72" fill="#dedede" stroke="#111" stroke-width="1.3"/>
<rect x="118.5" y="443.5" width="10" height="6" fill="#c6e0ec"/>
<rect x="128.5" y="443.5" width="10" height="6" fill="#c6e0ec"/>
<rect x="138.5" y="443.5" width="10" height="6" fill="#c6e0ec"/>
<rect x="148.5" y="443.5" width="10" height="6" fill="#c6e0ec"/>
<rect x="158.5" y="443.5" width="9" height="6" fill="#c6e0ec"/>
<rect x="167.5" y="443.5" width="10" height="6" fill="#c6e0ec"/>
<rect x="177.5" y="443.5" width="10" height="6" fill="#c6e0ec"/>
<rect x="187.5" y="443.5" width="10" height="6" fill="#c6e0ec"/>
<rect x="197.5" y="443.5" width="10" height="6" fill="#c6e0ec"/>
<rect x="207.5" y="443.5" width="10" height="6" fill="#c6e0ec"/>
<rect x="217.5" y="443.5" width="10" height="6" fill="#c6e0ec"/>
<rect x="227.5" y="443.5" width="10" height="6" fill="#c6e0ec"/>
<rect x="237.5" y="443.5" width="10" height="6" fill="#c6e0ec"/>
<rect x="247.5" y="443.5" width="9" height="6" fill="#c6e0ec"/>
<rect x="256.5" y="443.5" width="10" height="6" fill="#c6e0ec"/>
<rect x="266.5" y="443.5" width="10" height="6" fill="#c6e0ec"/>
<rect x="276.5" y="443.5" width="10" height="6" fill="#c6e0ec"/>
<rect x="286.5" y="443.5" width="10" height="6" fill="#c6e0ec"/>
<rect x="296.5" y="443.5" width="10" height="6" fill="#e19326"/>
<rect x="306.5" y="443.5" width="10" height="6" fill="#e19326"/>
<rect x="316.5" y="443.5" width="10" height="6" fill="#e19326"/>
<rect x="326.5" y="443.5" width="10" height="6" fill="#e19326"/>
<rect x="336.5" y="443.5" width="9" height="6" fill="#e19326"/>
<rect x="345.5" y="443.5" width="10" height="6" fill="#e19326"/>
<rect x="355.5" y="443.5" width="10" height="6" fill="#e19326"/>
<rect x="365.5" y="443.5" width="10" height="6" fill="#e19326"/>
<rect x="375.5" y="443.5" width="10" height="6" fill="#e19326"/>
<rect x="385.5" y="443.5" width="10" height="6" fill="#e19326"/>
<rect x="395.5" y="443.5" width="10" height="6" fill="#e19326"/>
<rect x="405.5" y="443.5" width="10" height="6" fill="#7d1a16"/>
<rect x="415.5" y="443.5" width="10" height="6" fill="#7d1a16"/>
<rect x="425.5" y="443.5" width="9" height="6" fill="#7d1a16"/>
<rect x="434.5" y="443.5" width="10" height="6" fill="#7d1a16"/>
<rect x="444.5" y="443.5" width="10" height="6" fill="#7d1a16"/>
<rect x="454.5" y="443.5" width="10" height="6" fill="#7d1a16"/>
<rect x="464.5" y="443.5" width="10" height="6" fill="#7d1a16"/>
<rect x="474.5" y="443.5" width="10" height="6" fill="#7d1a16"/>
<path d="M118.5 443.5H484.5M118.5 449.5H484.5" stroke="#666" stroke-width="1" fill="none"/>
<path d="M118.5 452.5H484.5M118.5 456.5H484.5M118.5 461.5H484.5M118.5 466.5H484.5M118.5 471.5H484.5M118.5 475.5H484.5M118.5 480.5H484.5M118.5 485.5H484.5M118.5 490.5H484.5M118.5 494.5H484.5M118.5 499.5H484.5M118.5 504.5H484.5M118.5 509.5H484.5M118.5 513.5H484.5M118.5 518.5H484.5M118.5 523.5H484.5M118.5 528.5H484.5M118.5 533.5H484.5M118.5 537.5H484.5M118.5 542.5H484.5M118.5 547.5H484.5M118.5 552.5H484.5M118.5 556.5H484.5M118.5 561.5H484.5M118.5 566.5H484.5M118.5 571.5H484.5M118.5 575.5H484.5M118.5 580.5H484.5M118.5 585.5H484.5M118.5 590.5H484.5M118.5 594.5H484.5M118.5 599.5H484.5M118.5 604.5H484.5" stroke="#9e9e9e" stroke-width="1" fill="none"/>
<path d="M118.5 443.5V604.5M128.5 443.5V604.5M138.5 443.5V604.5M148.5 443.5V604.5M158.5 443.5V604.5M167.5 443.5V604.5M177.5 443.5V604.5M187.5 443.5V604.5M197.5 443.5V604.5M207.5 443.5V604.5M217.5 443.5V604.5M227.5 443.5V604.5M237.5 443.5V604.5M247.5 443.5V604.5M256.5 443.5V604.5M266.5 443.5V604.5M276.5 443.5V604.5M286.5 443.5V604.5M296.5 443.5V604.5M306.5 443.5V604.5M316.5 443.5V604.5M326.5 443.5V604.5M336.5 443.5V604.5M345.5 443.5V604.5M355.5 443.5V604.5M365.5 443.5V604.5M375.5 443.5V604.5M385.5 443.5V604.5M395.5 443.5V604.5M405.5 443.5V604.5M415.5 443.5V604.5M425.5 443.5V604.5M434.5 443.5V604.5M444.5 443.5V604.5M454.5 443.5V604.5M464.5 443.5V604.5M474.5 443.5V604.5M484.5 443.5V604.5" stroke="#8a8a8a" stroke-width="1" fill="none"/>
<rect x="119" y="456.9" width="9.8" height="4.8" fill="#bc0f1b"/>
<rect x="119" y="466.9" width="9.8" height="4.8" fill="#bc0f1b"/>
<rect x="168" y="466.9" width="9.8" height="4.8" fill="#bc0f1b"/>
<rect x="149" y="461.9" width="9.8" height="4.8" fill="#bc0f1b"/>
<rect x="159" y="461.9" width="8.8" height="4.8" fill="#bc0f1b"/>
<rect x="168" y="480.9" width="9.8" height="4.8" fill="#bc0f1b"/>
<rect x="168" y="494.9" width="9.8" height="4.8" fill="#bc0f1b"/>
<rect x="168" y="499.9" width="9.8" height="4.8" fill="#f1c8cd"/>
<rect x="198" y="485.9" width="9.8" height="4.8" fill="#d9808c"/>
<rect x="208" y="490.9" width="9.8" height="3.8" fill="#bc0f1b"/>
<rect x="218" y="490.9" width="9.8" height="3.8" fill="#bc0f1b"/>
<rect x="228" y="494.9" width="9.8" height="4.8" fill="#bc0f1b"/>
<rect x="238" y="504.9" width="9.8" height="4.8" fill="#bc0f1b"/>
<rect x="248" y="509.9" width="8.8" height="3.8" fill="#bc0f1b"/>
<rect x="267" y="518.9" width="9.8" height="4.8" fill="#bc0f1b"/>
<rect x="277" y="523.9" width="9.8" height="4.8" fill="#bc0f1b"/>
<rect x="168" y="528.9" width="9.8" height="4.8" fill="#bc0f1b"/>
<rect x="168" y="533.9" width="9.8" height="3.8" fill="#bc0f1b"/>
<rect x="168" y="537.9" width="9.8" height="4.8" fill="#bc0f1b"/>
<rect x="168" y="542.9" width="9.8" height="4.8" fill="#bc0f1b"/>
<rect x="119" y="547.9" width="9.8" height="4.8" fill="#bc0f1b"/>
<rect x="119" y="552.9" width="9.8" height="3.8" fill="#bc0f1b"/>
<rect x="119" y="556.9" width="9.8" height="4.8" fill="#bc0f1b"/>
<rect x="119" y="561.9" width="9.8" height="4.8" fill="#bc0f1b"/>
<rect x="218" y="566.9" width="9.8" height="4.8" fill="#bc0f1b"/>
<rect x="218" y="571.9" width="9.8" height="3.8" fill="#bc0f1b"/>
<rect x="238" y="575.9" width="9.8" height="4.8" fill="#bc0f1b"/>
<rect x="317" y="452.9" width="9.8" height="3.8" fill="#bc0f1b"/>
<rect x="337" y="452.9" width="8.8" height="3.8" fill="#bc0f1b"/>
<rect x="346" y="452.9" width="9.8" height="3.8" fill="#bc0f1b"/>
<rect x="317" y="461.9" width="9.8" height="4.8" fill="#bc0f1b"/>
<rect x="327" y="461.9" width="9.8" height="4.8" fill="#bc0f1b"/>
<rect x="317" y="466.9" width="9.8" height="4.8" fill="#bc0f1b"/>
<rect x="317" y="499.9" width="9.8" height="4.8" fill="#bc0f1b"/>
<rect x="317" y="590.9" width="9.8" height="3.8" fill="#bc0f1b"/>
<rect x="406" y="456.9" width="9.8" height="4.8" fill="#f1c8cd"/>
<rect x="416" y="456.9" width="9.8" height="4.8" fill="#f1c8cd"/>
<rect x="356" y="471.9" width="9.8" height="3.8" fill="#bc0f1b"/>
<rect x="366" y="471.9" width="9.8" height="3.8" fill="#f1c8cd"/>
<rect x="376" y="499.9" width="9.8" height="4.8" fill="#cd5a66"/>
<rect x="376" y="504.9" width="9.8" height="4.8" fill="#cd5a66"/>
<rect x="426" y="452.9" width="8.8" height="3.8" fill="#bc0f1b"/>
<rect x="435" y="452.9" width="9.8" height="3.8" fill="#f1c8cd"/>
<rect x="445" y="452.9" width="9.8" height="3.8" fill="#f7dde0"/>
<rect x="416" y="480.9" width="9.8" height="4.8" fill="#d9808c"/>
<rect x="455" y="580.9" width="9.8" height="4.8" fill="#e09aa3"/>
<rect x="465" y="585.9" width="9.8" height="4.8" fill="#f1c8cd"/>
<g transform="rotate(0.05 486.53 452.1)">
<text class="gl" x="486.53" y="456.23" font-size="4.8" letter-spacing="0.18" font-weight="bold">ABL1</text>
<text class="gl" x="486.53" y="460.99" font-size="4.8" letter-spacing="0.18">ASXL1</text>
<text class="gl" x="486.53" y="465.75" font-size="4.8" letter-spacing="0.18">TET2</text>
<text class="gl" x="486.53" y="470.51" font-size="4.8" letter-spacing="0.18">KIAA1549</text>
<text class="gl" x="486.53" y="475.27" font-size="4.8" letter-spacing="0.18">MYOM2</text>
<text class="gl" x="486.53" y="480.03" font-size="4.8" letter-spacing="0.18">RUNX1</text>
<text class="gl" x="486.53" y="484.79" font-size="4.8" letter-spacing="0.18">CSMD3</text>
<text class="gl" x="486.53" y="489.55" font-size="4.8" letter-spacing="0.18">DNMT3A</text>
<text class="gl" x="486.53" y="494.31" font-size="4.8" letter-spacing="0.18">NF1</text>
<text class="gl" x="486.53" y="499.07" font-size="4.8" letter-spacing="0.18">CREBBP</text>
<text class="gl" x="486.53" y="503.83" font-size="4.8" letter-spacing="0.18">KMT2D</text>
<text class="gl" x="486.53" y="508.59" font-size="4.8" letter-spacing="0.18">BCOR</text>
<text class="gl" x="486.53" y="513.35" font-size="4.8" letter-spacing="0.18">FANCA</text>
<text class="gl" x="486.53" y="518.11" font-size="4.8" letter-spacing="0.18">KMT2A</text>
<text class="gl" x="486.53" y="522.87" font-size="4.8" letter-spacing="0.18">JAK3</text>
<text class="gl" x="486.53" y="527.63" font-size="4.8" letter-spacing="0.18">CASP8</text>
<text class="gl" x="486.53" y="532.39" font-size="4.8" letter-spacing="0.18">CUX1</text>
<text class="gl" x="486.53" y="537.15" font-size="4.8" letter-spacing="0.18">FBXO11</text>
<text class="gl" x="486.53" y="541.91" font-size="4.8" letter-spacing="0.18">FLT3</text>
<text class="gl" x="486.53" y="546.67" font-size="4.8" letter-spacing="0.18">KIT</text>
<text class="gl" x="486.53" y="551.43" font-size="4.8" letter-spacing="0.18">ATRX</text>
<text class="gl" x="486.53" y="556.19" font-size="4.8" letter-spacing="0.18">ELN</text>
<text class="gl" x="486.53" y="560.95" font-size="4.8" letter-spacing="0.18">KAT6A</text>
<text class="gl" x="486.53" y="565.71" font-size="4.8" letter-spacing="0.18">NUTM2G</text>
<text class="gl" x="486.53" y="570.47" font-size="4.8" letter-spacing="0.18">EP300</text>
<text class="gl" x="486.53" y="575.23" font-size="4.8" letter-spacing="0.18">TRRAP</text>
<text class="gl" x="486.53" y="579.99" font-size="4.8" letter-spacing="0.18">SF1</text>
<text class="gl" x="486.53" y="584.75" font-size="4.8" letter-spacing="0.18">TP53</text>
<text class="gl" x="486.53" y="589.51" font-size="4.8" letter-spacing="0.18">SETBP1</text>
<text class="gl" x="486.53" y="594.27" font-size="4.8" letter-spacing="0.18">ZNF37A</text>
<text class="gl" x="486.53" y="599.03" font-size="4.8" letter-spacing="0.18">RAD21</text>
<text class="gl" x="486.53" y="603.79" font-size="4.8" letter-spacing="0.18">IRF1</text>
</g>
<text class="sl" fill="#2a2a2a" x="0" y="0" font-size="5.6" text-anchor="end" transform="translate(126.44 607.5) rotate(-90)">CML-79</text>
<text class="sl" fill="#2a2a2a" x="0" y="0" font-size="5.6" text-anchor="end" transform="translate(136.34 607.5) rotate(-90)">CML-65</text>
<text class="sl" fill="#2a2a2a" x="0" y="0" font-size="5.6" text-anchor="end" transform="translate(146.22 607.5) rotate(-90)">CML-57</text>
<text class="sl" fill="#2a2a2a" x="0" y="0" font-size="5.6" text-anchor="end" transform="translate(156.12 607.5) rotate(-90)">CML-48</text>
<text class="sl" fill="#2a2a2a" x="0" y="0" font-size="5.6" text-anchor="end" transform="translate(166 607.5) rotate(-90)">CML-44</text>
<text class="sl" fill="#2a2a2a" x="0" y="0" font-size="5.6" text-anchor="end" transform="translate(175.9 607.5) rotate(-90)">CML-78</text>
<text class="sl" fill="#2a2a2a" x="0" y="0" font-size="5.6" text-anchor="end" transform="translate(185.78 607.5) rotate(-90)">CML-60</text>
<text class="sl" fill="#2a2a2a" x="0" y="0" font-size="5.6" text-anchor="end" transform="translate(195.68 607.5) rotate(-90)">CML-10</text>
<text class="sl" fill="#2a2a2a" x="0" y="0" font-size="5.6" text-anchor="end" transform="translate(205.56 607.5) rotate(-90)">CML-15</text>
<text class="sl" fill="#2a2a2a" x="0" y="0" font-size="5.6" text-anchor="end" transform="translate(215.46 607.5) rotate(-90)">CML-34</text>
<text class="sl" fill="#2a2a2a" x="0" y="0" font-size="5.6" text-anchor="end" transform="translate(225.34 607.5) rotate(-90)">CML-63</text>
<text class="sl" fill="#2a2a2a" x="0" y="0" font-size="5.6" text-anchor="end" transform="translate(235.24 607.5) rotate(-90)">CML-39</text>
<text class="sl" fill="#2a2a2a" x="0" y="0" font-size="5.6" text-anchor="end" transform="translate(245.12 607.5) rotate(-90)">CML-86</text>
<text class="sl" fill="#2a2a2a" x="0" y="0" font-size="5.6" text-anchor="end" transform="translate(255.02 607.5) rotate(-90)">CML-26</text>
<text class="sl" fill="#2a2a2a" x="0" y="0" font-size="5.6" text-anchor="end" transform="translate(264.9 607.5) rotate(-90)">CML-46</text>
<text class="sl" fill="#2a2a2a" x="0" y="0" font-size="5.6" text-anchor="end" transform="translate(274.8 607.5) rotate(-90)">CML-49</text>
<text class="sl" fill="#2a2a2a" x="0" y="0" font-size="5.6" text-anchor="end" transform="translate(284.69 607.5) rotate(-90)">CML-67</text>
<text class="sl" fill="#2a2a2a" x="0" y="0" font-size="5.6" text-anchor="end" transform="translate(294.58 607.5) rotate(-90)">CML-27</text>
<text class="sl" fill="#2a2a2a" x="0" y="0" font-size="5.6" text-anchor="end" transform="translate(304.47 607.5) rotate(-90)">CML-91</text>
<text class="sl" fill="#2a2a2a" x="0" y="0" font-size="5.6" text-anchor="end" transform="translate(314.36 607.5) rotate(-90)">CML-76</text>
<text class="sl" fill="#2a2a2a" x="0" y="0" font-size="5.6" text-anchor="end" transform="translate(324.25 607.5) rotate(-90)">CML-54</text>
<text class="sl" fill="#2a2a2a" x="0" y="0" font-size="5.6" text-anchor="end" transform="translate(334.13 607.5) rotate(-90)">CML-84</text>
<text class="sl" fill="#2a2a2a" x="0" y="0" font-size="5.6" text-anchor="end" transform="translate(344.02 607.5) rotate(-90)">CML-99</text>
<text class="sl" fill="#2a2a2a" x="0" y="0" font-size="5.6" text-anchor="end" transform="translate(353.92 607.5) rotate(-90)">CML-85</text>
<text class="sl" fill="#2a2a2a" x="0" y="0" font-size="5.6" text-anchor="end" transform="translate(363.81 607.5) rotate(-90)">CML-04</text>
<text class="sl" fill="#2a2a2a" x="0" y="0" font-size="5.6" text-anchor="end" transform="translate(373.7 607.5) rotate(-90)">CML-05</text>
<text class="sl" fill="#2a2a2a" x="0" y="0" font-size="5.6" text-anchor="end" transform="translate(383.59 607.5) rotate(-90)">CML-98</text>
<text class="sl" fill="#2a2a2a" x="0" y="0" font-size="5.6" text-anchor="end" transform="translate(393.48 607.5) rotate(-90)">CML-89</text>
<text class="sl" fill="#2a2a2a" x="0" y="0" font-size="5.6" text-anchor="end" transform="translate(403.37 607.5) rotate(-90)">CML-64</text>
<text class="sl" fill="#2a2a2a" x="0" y="0" font-size="5.6" text-anchor="end" transform="translate(413.25 607.5) rotate(-90)">CML-06</text>
<text class="sl" fill="#2a2a2a" x="0" y="0" font-size="5.6" text-anchor="end" transform="translate(423.15 607.5) rotate(-90)">CML-12</text>
<text class="sl" fill="#2a2a2a" x="0" y="0" font-size="5.6" text-anchor="end" transform="translate(433.04 607.5) rotate(-90)">CML-36</text>
<text class="sl" fill="#2a2a2a" x="0" y="0" font-size="5.6" text-anchor="end" transform="translate(442.93 607.5) rotate(-90)">CML-16</text>
<text class="sl" fill="#2a2a2a" x="0" y="0" font-size="5.6" text-anchor="end" transform="translate(452.81 607.5) rotate(-90)">CML-21</text>
<text class="sl" fill="#2a2a2a" x="0" y="0" font-size="5.6" text-anchor="end" transform="translate(462.71 607.5) rotate(-90)">CML-37</text>
<text class="sl" fill="#2a2a2a" x="0" y="0" font-size="5.6" text-anchor="end" transform="translate(472.6 607.5) rotate(-90)">CML-40</text>
<text class="sl" fill="#2a2a2a" x="0" y="0" font-size="5.6" text-anchor="end" transform="translate(482.49 607.5) rotate(-90)">CML-56</text>
<circle cx="207.5" cy="660.8" r="24.3" fill="#fff"/>
<path d="M207.5 660.8L216.6 638.27A24.3 24.3 0 0 1 231.8 660.8Z" fill="#d6e8f1" stroke="#222" stroke-width="1.1" stroke-linejoin="round"/>
<circle cx="207.5" cy="660.8" r="24.3" fill="none" stroke="#222" stroke-width="1.2"/>
<text class="pt" x="220.4" y="652.4" font-size="5.4" font-weight="bold" text-anchor="middle" fill="#1a1a1a">14 pts</text>
<text class="pt" x="220.4" y="659.3" font-size="5.4" font-weight="bold" text-anchor="middle" fill="#1a1a1a">(18.9%)</text>
<text class="pt" x="207.3" y="672.4" font-size="5.4" font-weight="bold" text-anchor="middle" fill="#1a1a1a">60 pts</text>
<circle cx="352.1" cy="660.8" r="24.4" fill="#fff"/>
<path d="M352.1 660.8L329.17 652.45A24.4 24.4 0 0 1 376.5 660.8Z" fill="#e6a345" stroke="#222" stroke-width="1.1" stroke-linejoin="round"/>
<circle cx="352.1" cy="660.8" r="24.4" fill="none" stroke="#222" stroke-width="1.2"/>
<text class="pt" x="351.8" y="650.1" font-size="5.4" font-weight="bold" text-anchor="middle" fill="#1a1a1a">8 pts</text>
<text class="pt" x="351.8" y="655.9" font-size="5.4" font-weight="bold" text-anchor="middle" fill="#1a1a1a">(44.4%)</text>
<text class="pt" x="351.8" y="672.8" font-size="5.4" font-weight="bold" text-anchor="middle" fill="#1a1a1a">10 pts</text>
<circle cx="444.8" cy="661" r="24.1" fill="#fff"/>
<path d="M444.8 661L461.84 678.04A24.1 24.1 0 1 1 468.9 661Z" fill="#a54c47" stroke="#222" stroke-width="1.1" stroke-linejoin="round"/>
<circle cx="444.8" cy="661" r="24.1" fill="none" stroke="#222" stroke-width="1.2"/>
<text class="pt" x="444.6" y="650.1" font-size="5.4" font-weight="bold" text-anchor="middle" fill="#1a1a1a">7 pts</text>
<text class="pt" x="444.6" y="656.2" font-size="5.4" font-weight="bold" text-anchor="middle" fill="#1a1a1a">(87.5%)</text>
<text class="pt" x="459.2" y="668.2" font-size="5.4" font-weight="bold" text-anchor="middle" fill="#1a1a1a">1 pts</text>
<rect x="0" y="0" width="520" height="1" fill="#000"/>
<rect x="0" y="0" width="1.1" height="692" fill="#000"/>
<rect x="518.9" y="0" width="1.1" height="692" fill="#000"/>
<rect x="0" y="690.6" width="520" height="1.4" fill="#000"/>
</svg>
</body></html>
